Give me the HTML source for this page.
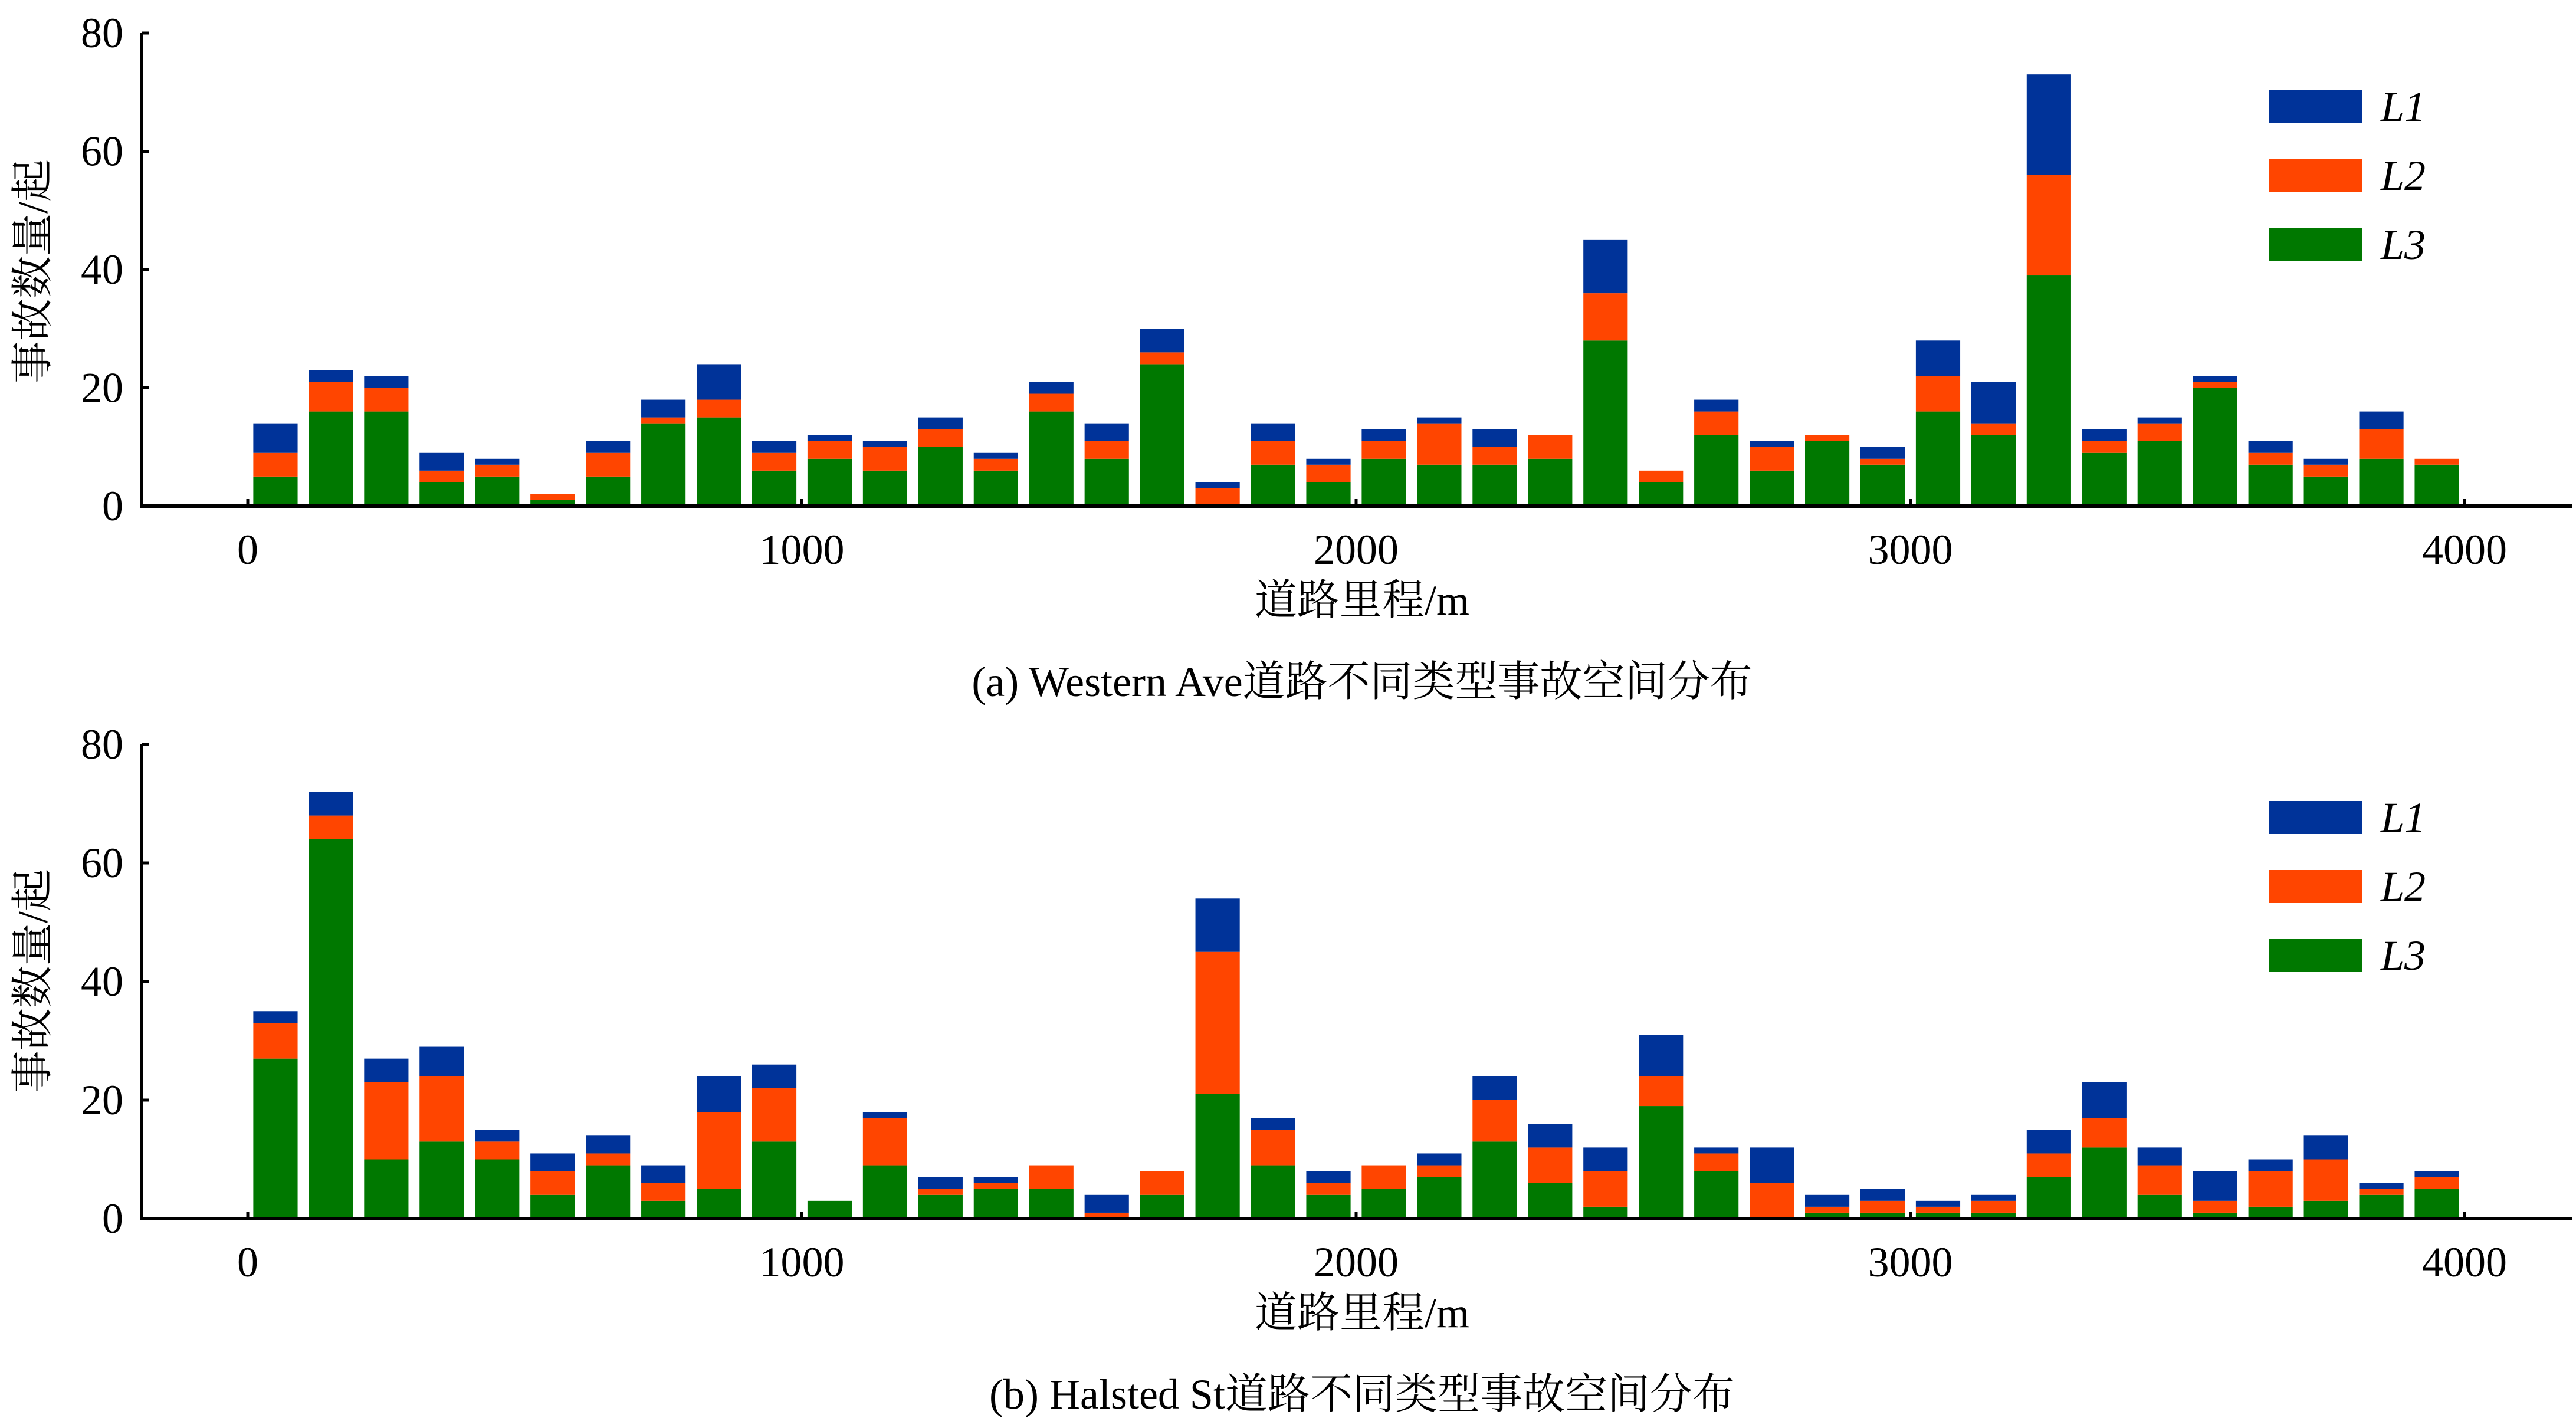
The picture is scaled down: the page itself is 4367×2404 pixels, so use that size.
<!DOCTYPE html>
<html><head><meta charset="utf-8"><style>
body{margin:0;background:#fff}
svg{display:block}
text{font-family:"Liberation Serif","Noto Serif CJK SC",serif;fill:#000}
</style></head><body>
<svg id="c" width="4367" height="2404" xmlns="http://www.w3.org/2000/svg"></svg>
<script>
const positions = [50,150,250,350,450,550,650,750,850,950,1050,1150,1250,1350,1450,1550,1650,1750,1850,1950,2050,2150,2250,2350,2450,2550,2650,2750,2850,2950,3050,3150,3250,3350,3450,3550,3650,3750,3850,3950];
const xTicks = [0,1000,2000,3000,4000];
const yTicks = [0,20,40,60,80];
const aL3 = [5,16,16,4,5,1,5,14,15,6,8,6,10,6,16,8,24,0,7,4,8,7,7,8,28,4,12,6,11,7,16,12,39,9,11,20,7,5,8,7];
const aL2 = [4,5,4,2,2,1,4,1,3,3,3,4,3,2,3,3,2,3,4,3,3,7,3,4,8,2,4,4,1,1,6,2,17,2,3,1,2,2,5,1];
const aL1 = [5,2,2,3,1,0,2,3,6,2,1,1,2,1,2,3,4,1,3,1,2,1,3,0,9,0,2,1,0,2,6,7,17,2,1,1,2,1,3,0];
const bL3 = [27,64,10,13,10,4,9,3,5,13,3,9,4,5,5,0,4,21,9,4,5,7,13,6,2,19,8,0,1,1,1,1,7,12,4,1,2,3,4,5];
const bL2 = [6,4,13,11,3,4,2,3,13,9,0,8,1,1,4,1,4,24,6,2,4,2,7,6,6,5,3,6,1,2,1,2,4,5,5,2,6,7,1,2];
const bL1 = [2,4,4,5,2,3,3,3,6,4,0,1,2,1,0,3,0,9,2,2,0,2,4,4,4,7,1,6,2,2,1,1,4,6,3,5,2,4,1,1];
const legendLabels = ['L1','L2','L3'];
const colors = {L1:'#003399',L2:'#FF4500',L3:'#007800'};
const NS='http://www.w3.org/2000/svg';
const svg=document.getElementById('c');
function mk(tag,attrs,parent){const e=document.createElementNS(NS,tag);for(const k in attrs)e.setAttribute(k,attrs[k]);(parent||svg).appendChild(e);return e;}
function panel(p){
  const g=mk('g',{});
  
  
  const xs=v=>420+(v/4000)*(4178-420);
  const ys=v=>p.y0-(v/80)*(p.y0-p.y80);
  const bw=(xs(80)-xs(0));
  for(let i=0;i<positions.length;i++){
    const segs=[['L3',p.l3[i]],['L2',p.l2[i]],['L1',p.l1[i]]];
    let base=0;
    for(const [k,v] of segs){
      if(v>0){
        const r=mk('rect',{x:xs(positions[i])-bw/2,y:ys(base+v),width:bw,height:ys(base)-ys(base+v),fill:colors[k]},g);
        
        
      }
      base+=v;
    }
  }
  const ya=mk('line',{x1:240,y1:p.y80,x2:240,y2:p.y0,stroke:'#000','stroke-width':5},g);
  
  
  const xa=mk('line',{x1:238,y1:p.y0,x2:4360,y2:p.y0,stroke:'#000','stroke-width':6},g);
  
  
  for(const t of yTicks){
    mk('line',{x1:240,y1:ys(t),x2:252,y2:ys(t),stroke:'#000','stroke-width':5},g);
    const tx=mk('text',{x:209,y:ys(t)+24,'text-anchor':'end','font-size':72},g);
    tx.textContent=t;
    
    
  }
  for(const t of xTicks){
    mk('line',{x1:xs(t),y1:p.y0,x2:xs(t),y2:p.y0-12,stroke:'#000','stroke-width':5},g);
    const tx=mk('text',{x:xs(t),y:p.y0+98,'text-anchor':'middle','font-size':72},g);
    tx.textContent=t;
    
    
  }
  const xt=mk('text',{x:2309,y:p.y0+184,'text-anchor':'middle','font-size':72},g);
  xt.textContent='道路里程/m';
  
  
  const yt=mk('text',{x:0,y:0,'text-anchor':'middle','font-size':72,transform:`translate(80,${p.yTitle}) rotate(-90)`},g);
  yt.textContent='事故数量/起';
  
  
  const cp=mk('text',{x:2309,y:p.y0+322,'text-anchor':'middle','font-size':72},g);
  cp.textContent=p.caption;
  
  
  legendLabels.forEach((k,j)=>{
    const cy=p.leg+j*117;
    const r=mk('rect',{x:3846,y:cy-28,width:159,height:56,fill:colors[k]},g);
    
    
    const t=mk('text',{x:4036,y:cy+24,'font-size':72,'font-style':'italic'},g);
    t.textContent=k;
    
    
  });
}
panel({name:'panel-western-ave',y0:858,y80:56,l3:aL3,l2:aL2,l1:aL1,yTitle:460,leg:181,caption:'(a) Western Ave道路不同类型事故空间分布'});
panel({name:'panel-halsted-st',y0:2066,y80:1262,l3:bL3,l2:bL2,l1:bL1,yTitle:1663,leg:1386,caption:'(b) Halsted St道路不同类型事故空间分布'});
</script>
</body></html>
